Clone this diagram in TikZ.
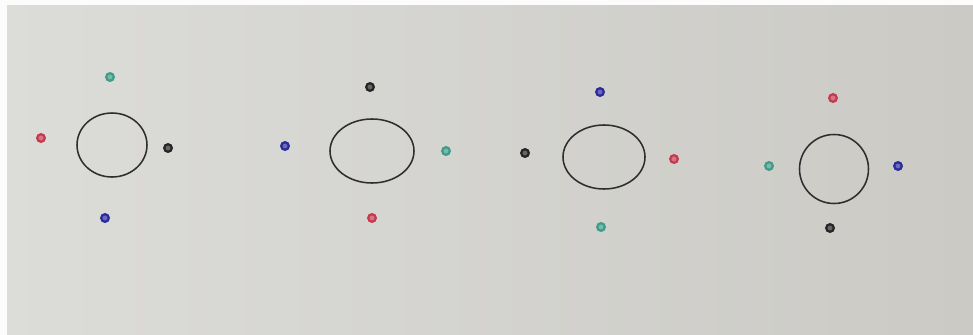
\documentclass[tikz,border=0pt]{standalone}
\usepackage{xcolor}
\usepackage{tikz}
\usetikzlibrary{shapes.geometric,backgrounds}
\definecolor{paper}{HTML}{DCDCD9}
\definecolor{paperdk}{HTML}{CBCAC5}
\definecolor{pencil}{HTML}{2E2E2E}
\definecolor{teal}{HTML}{3F9C88}
\definecolor{crimson}{HTML}{C63A50}
\definecolor{ink}{HTML}{262626}
\definecolor{navy}{HTML}{2B2B9C}
\tikzset{
  ringbox/.style 2 args={
    ellipse, draw=pencil, line width=1.1pt,
    minimum width=#1*0.025cm, minimum height=#2*0.025cm,
    inner sep=0pt
  },
  dotmark/.style={
    circle, draw=#1, fill=#1!70, line width=1.6pt,
    minimum size=0.19cm, inner sep=0pt
  },
  dotmark/.default=ink,
}
\begin{document}
\begin{tikzpicture}[x=0.025cm,y=-0.025cm]
  \useasboundingbox (0,0) rectangle (973,335);
  % paper
  \shade[left color=paper, right color=paperdk] (0,0) rectangle (973,335);
  \fill[white!92!paper] (0,0) rectangle (973,5);
  \fill[white!92!paper] (0,0) rectangle (7,335);
  % first group
  \node[ringbox={70}{64}] (r1) at (112,145) {};
  \node[dotmark=teal] (t1) at (110,77) {};
  \node[dotmark=crimson] (e1) at (41,138) {};
  \node[dotmark=ink] (k1) at (168,148) {};
  \node[dotmark=navy] (n1) at (105,218) {};
  % second group
  \node[ringbox={84}{64}] (r2) at (372,151) {};
  \node[dotmark=ink] (k2) at (370,87) {};
  \node[dotmark=navy] (n2) at (285,146) {};
  \node[dotmark=teal] (t2) at (446,151) {};
  \node[dotmark=crimson] (e2) at (372,218) {};
  % third group
  \node[ringbox={82}{64}] (r3) at (604,157) {};
  \node[dotmark=navy] (n3) at (600,92) {};
  \node[dotmark=ink] (k3) at (525,153) {};
  \node[dotmark=crimson] (e3) at (674,159) {};
  \node[dotmark=teal] (t3) at (601,227) {};
  % fourth group
  \node[ringbox={69}{69}] (r4) at (834,169) {};
  \node[dotmark=crimson] (e4) at (833,98) {};
  \node[dotmark=teal] (t4) at (769,166) {};
  \node[dotmark=navy] (n4) at (898,166) {};
  \node[dotmark=ink] (k4) at (830,228) {};
\end{tikzpicture}
\end{document}
